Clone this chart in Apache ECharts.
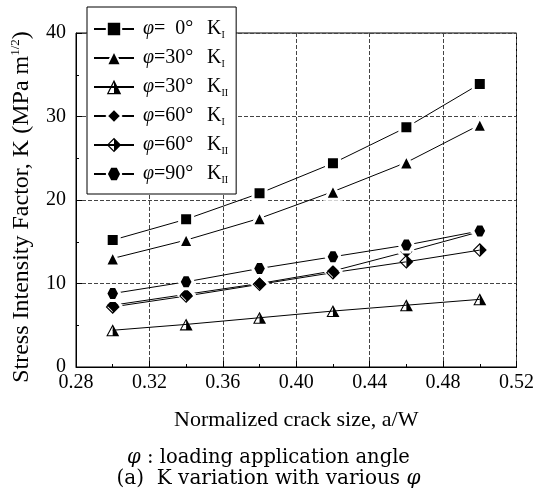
<!DOCTYPE html>
<html>
<head>
<meta charset="utf-8">
<script src="https://cdn.jsdelivr.net/npm/echarts@6/dist/echarts.min.js"></script>
<style>
  html, body { margin: 0; padding: 0; background: #fff; }
  #chart { width: 537px; height: 501px; }
</style>
</head>
<body>
<div id="chart"></div>
<script>
// 数据
var crackSize = [0.30, 0.34, 0.38, 0.42, 0.46, 0.50];
var k0I   = [15.2, 17.7, 20.8, 24.4, 28.7, 33.9];
var k30I  = [13.0, 15.2, 17.8, 21.0, 24.5, 29.0];
var k30II = [4.4, 5.1, 5.9, 6.7, 7.4, 8.1];
var k60I  = [7.4, 8.7, 10.0, 11.5, 13.8, 16.2];
var k60II = [7.2, 8.5, 9.9, 11.3, 12.6, 14.0];
var k90II = [8.8, 10.2, 11.8, 13.2, 14.6, 16.3];

var seriesNames = ['s0I', 's30I', 's30II', 's60I', 's60II', 's90II'];
var angleLabels = ['=  0°', '=30°', '=30°', '=60°', '=60°', '=90°'];
var kSubs = ['I', 'I', 'II', 'I', 'II', 'II'];

var serif = 'Liberation Serif';

// 半填充符号 (单一路径, 用切缝挖出左半空心)
var halfTriangle = 'path://M5,0 L10,9 L0,9 L5,0 L5,1.65 L1.36,8.2 L5,8.2 L5,1.65 Z';
var halfDiamond = 'path://M5,0 L10,5 L5,10 L0,5 L5,0 L5,1.13 L1.13,5 L5,8.87 L5,1.13 Z';
var hexagon = 'path://M2.6,0 L7.4,0 L10,5 L7.4,10 L2.6,10 L0,5 Z';

function pairs(ys) {
  return crackSize.map(function (x, i) { return [x, ys[i]]; });
}

function lineSeries(name, ys, symbol, size, gap) {
  return {
    name: name,
    type: 'line',
    data: pairs(ys),
    symbol: symbol,
    symbolSize: size,
    showSymbol: true,
    lineStyle: { color: '#000', width: 1 },
    itemStyle: gap
      ? { color: '#000', borderColor: '#fff', borderWidth: 3 }
      : { color: '#000', borderWidth: 0 },
    emphasis: { disabled: true },
    z: 3
  };
}

var chart = echarts.init(document.getElementById('chart'));

var option = {
  animation: false,
  backgroundColor: '#fff',
  grid: {
    left: 76, right: 15, top: 33, bottom: 134,
    show: true, borderColor: '#000', borderWidth: 1
  },
  legend: {
    orient: 'vertical',
    left: 87, top: 7,
    padding: [12, 8, 9, 6],
    itemGap: 8,
    itemWidth: 40,
    itemHeight: 18,
    backgroundColor: '#fff',
    borderColor: '#000',
    borderWidth: 1,
    data: seriesNames,
    formatter: function (name) {
      var i = seriesNames.indexOf(name);
      return '{f|φ}{a|' + angleLabels[i] + '}{k|K}{s|' + kSubs[i] + '}';
    },
    textStyle: {
      color: '#000',
      fontFamily: serif,
      fontSize: 20,
      rich: {
        f: { fontFamily: serif, fontStyle: 'italic', fontSize: 20, lineHeight: 22, color: '#000', padding: [0, 0, 0, 4] },
        a: { fontFamily: serif, fontSize: 20, lineHeight: 22, width: 53, color: '#000' },
        k: { fontFamily: serif, fontSize: 20, lineHeight: 22, color: '#000' },
        s: { fontFamily: serif, fontSize: 10, lineHeight: 10, verticalAlign: 'bottom', color: '#000' }
      }
    }
  },
  xAxis: {
    type: 'value',
    min: 0.28, max: 0.52, interval: 0.04,
    name: 'Normalized crack size, a/W',
    nameLocation: 'middle',
    nameGap: 42,
    nameTextStyle: { fontFamily: serif, fontSize: 22, color: '#000' },
    axisLine: { lineStyle: { color: '#000', width: 1 } },
    axisTick: { inside: true, length: 6, lineStyle: { color: '#000' } },
    minorTick: { show: true, splitNumber: 2, length: 3, lineStyle: { color: '#000' } },
    axisLabel: {
      color: '#000', fontFamily: serif, fontSize: 20, margin: 6,
      formatter: function (v) { return v.toFixed(2); }
    },
    splitLine: { show: true, lineStyle: { color: '#444', width: 1, type: [4, 2] } }
  },
  yAxis: {
    type: 'value',
    min: 0, max: 40, interval: 10,
    name: 'Stress Intensity Factor, K (MPa m{sup|1/2})',
    nameLocation: 'middle',
    nameGap: 32,
    nameTextStyle: {
      fontFamily: serif, fontSize: 24, lineHeight: 26, color: '#000',
      padding: [0, 14, 0, 0],
      rich: {
        sup: { fontFamily: serif, fontSize: 13, lineHeight: 13, verticalAlign: 'top', color: '#000' }
      }
    },
    axisLine: { lineStyle: { color: '#000', width: 1 } },
    axisTick: { inside: true, length: 6, lineStyle: { color: '#000' } },
    minorTick: { show: true, splitNumber: 2, length: 3, lineStyle: { color: '#000' } },
    axisLabel: { color: '#000', fontFamily: serif, fontSize: 20, margin: 10 },
    splitLine: { show: true, lineStyle: { color: '#444', width: 1, type: [4, 2] } }
  },
  graphic: [
    {
      type: 'text', left: 'center', top: 448,
      style: {
        text: '{f|φ} : loading application angle',
        fill: '#000', font: '19.5px "DejaVu Serif"',
        rich: { f: { fontStyle: 'italic', fontFamily: 'DejaVu Serif', fontSize: 19.5 } }
      }
    },
    {
      type: 'text', left: 'center', top: 469,
      style: {
        text: '(a)  K variation with various {f|φ}',
        fill: '#000', font: '20px "DejaVu Serif"',
        rich: { f: { fontStyle: 'italic', fontFamily: 'DejaVu Serif', fontSize: 20 } }
      }
    }
  ],
  series: [
    lineSeries('s0I', k0I, 'rect', 13, true),
    lineSeries('s30I', k30I, 'triangle', 15, true),
    lineSeries('s30II', k30II, halfTriangle, [13, 12], false),
    lineSeries('s60I', k60I, 'diamond', 16, true),
    lineSeries('s60II', k60II, halfDiamond, 14, false),
    lineSeries('s90II', k90II, hexagon, 14, true)
  ]
};

chart.setOption(option);
</script>
</body>
</html>
